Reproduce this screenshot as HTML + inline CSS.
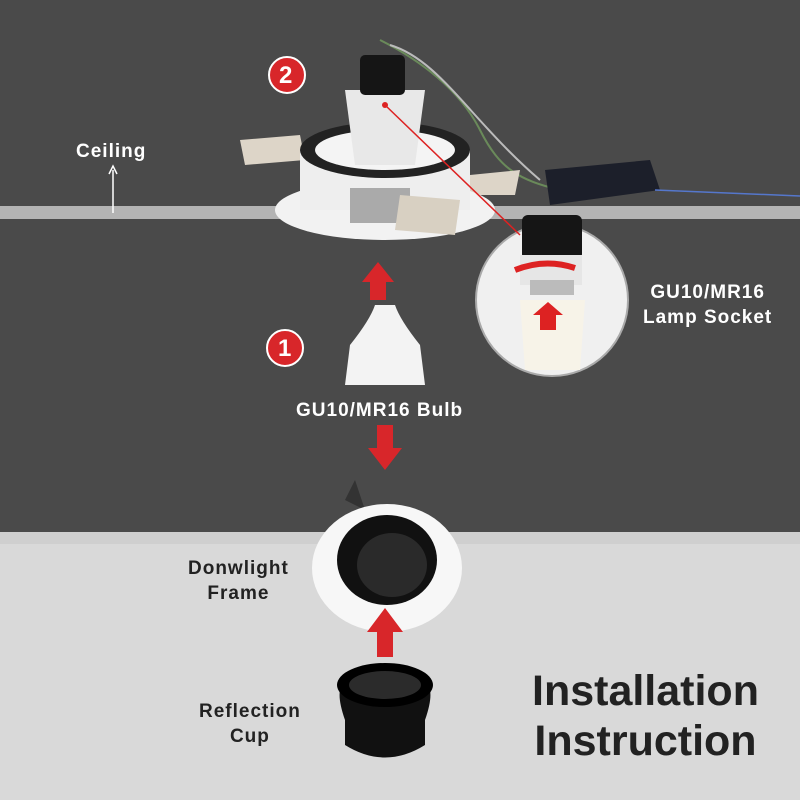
<!DOCTYPE html>
<html><head><meta charset="utf-8"><style>
body{margin:0;width:800px;height:800px;overflow:hidden;font-family:"Liberation Sans",sans-serif}
.t{position:absolute;font-weight:bold;color:#fff;letter-spacing:1px}
</style></head><body>
<svg width="800" height="800" style="position:absolute;left:0;top:0">
<rect width="800" height="800" fill="#4a4a4a"/>
<rect y="533" width="800" height="267" fill="#d9d9d9"/>
<rect y="532" width="800" height="12" fill="#cfcfcf"/>
<rect y="206" width="800" height="13" fill="#b4b4b4"/>
<path d="M380 40 C420 60 460 90 480 130 S520 180 560 190" stroke="#6a8a5a" stroke-width="2" fill="none"/>
<path d="M390 45 C440 60 470 120 540 180" stroke="#bbb" stroke-width="2" fill="none"/>
<path d="M545 170 L650 160 L660 190 L550 205 Z" fill="#1c1f2a"/>
<path d="M655 190 L800 196" stroke="#5577cc" stroke-width="1.5"/>
<path d="M240 140 L300 135 L305 160 L245 165 Z" fill="#ddd5c8"/>
<path d="M470 175 L520 170 L515 195 L465 195 Z" fill="#ddd5c8"/>
<ellipse cx="385" cy="210" rx="110" ry="30" fill="#f2f2f2"/>
<rect x="300" y="150" width="170" height="60" fill="#eeeeee"/>
<ellipse cx="385" cy="150" rx="85" ry="28" fill="#222"/>
<ellipse cx="385" cy="150" rx="70" ry="20" fill="#f4f4f4"/>
<path d="M345 90 L425 90 L415 165 L355 165 Z" fill="#e8e8e8"/>
<rect x="360" y="55" width="45" height="40" rx="5" fill="#151515"/>
<rect x="350" y="188" width="60" height="35" fill="#aaa"/>
<path d="M400 195 L460 200 L455 235 L395 230 Z" fill="#d8d0c2"/>
<circle cx="552" cy="300" r="76" fill="#f0f0f0" stroke="#aaa" stroke-width="2"/>
<rect x="522" y="215" width="60" height="45" rx="6" fill="#151515"/>
<rect x="520" y="255" width="62" height="30" fill="#e6e6e6"/>
<rect x="530" y="280" width="44" height="15" fill="#bbb"/>
<path d="M520 300 L585 300 L580 370 L525 370 Z" fill="#f7f3e8"/>
<path d="M515 270 Q545 258 575 268" stroke="#d22" stroke-width="6" fill="none"/>
<path d="M540 330 L540 315 L533 315 L548 302 L563 315 L556 315 L556 330 Z" fill="#d22"/>
<line x1="385" y1="105" x2="520" y2="235" stroke="#d22" stroke-width="1.5"/>
<circle cx="385" cy="105" r="3" fill="#d22"/>
<circle cx="287" cy="75" r="18" fill="#d8262a" stroke="#fff" stroke-width="2"/>
<circle cx="285" cy="348" r="18" fill="#d8262a" stroke="#fff" stroke-width="2"/>
<path d="M370 300 L370 282 L362 282 L378 262 L394 282 L386 282 L386 300 Z" fill="#d8262a"/>
<path d="M377 425 L393 425 L393 448 L402 448 L385 470 L368 448 L377 448 Z" fill="#d8262a"/>
<path d="M345 385 L425 385 L420 345 Q400 320 395 305 L375 305 Q370 320 350 345 Z" fill="#f3f3f3"/>
<path d="M355 480 L345 500 L365 510 Z" fill="#333"/>
<ellipse cx="387" cy="568" rx="75" ry="64" fill="#f7f7f7"/>
<ellipse cx="387" cy="560" rx="50" ry="45" fill="#111"/>
<ellipse cx="392" cy="565" rx="35" ry="32" fill="#2a2a2a"/>
<path d="M377 657 L377 632 L367 632 L385 608 L403 632 L393 632 L393 657 Z" fill="#d8262a"/>
<path d="M340 690 Q338 700 345 720 L345 745 Q385 770 425 745 L425 720 Q432 700 430 690 Z" fill="#111"/>
<ellipse cx="385" cy="685" rx="48" ry="22" fill="#000"/>
<ellipse cx="385" cy="685" rx="36" ry="14" fill="#2b2b2b"/>
<line x1="113" y1="213" x2="113" y2="170" stroke="#fff" stroke-width="1.5"/>
<path d="M109 174 L113 166 L117 174" stroke="#fff" fill="none" stroke-width="1.5"/>
</svg>
<div class="t" style="left:279px;top:62px;font-size:24px">2</div>
<div class="t" style="left:278px;top:335px;font-size:24px">1</div>
<div class="t" style="left:76px;top:141px;font-size:19px">Ceiling</div>
<div class="t" style="left:643px;top:280px;font-size:19px;text-align:center;line-height:25px">GU10/MR16<br>Lamp Socket</div>
<div class="t" style="left:296px;top:400px;font-size:19px">GU10/MR16 Bulb</div>
<div class="t" style="left:188px;top:556px;font-size:19px;color:#222;text-align:center;line-height:25px">Donwlight<br>Frame</div>
<div class="t" style="left:199px;top:699px;font-size:19px;color:#222;text-align:center;line-height:25px">Reflection<br>Cup</div>
<div class="t" style="left:532px;top:666px;font-size:43px;color:#222;text-align:center;line-height:50px;letter-spacing:0">Installation<br>Instruction</div>
</body></html>
